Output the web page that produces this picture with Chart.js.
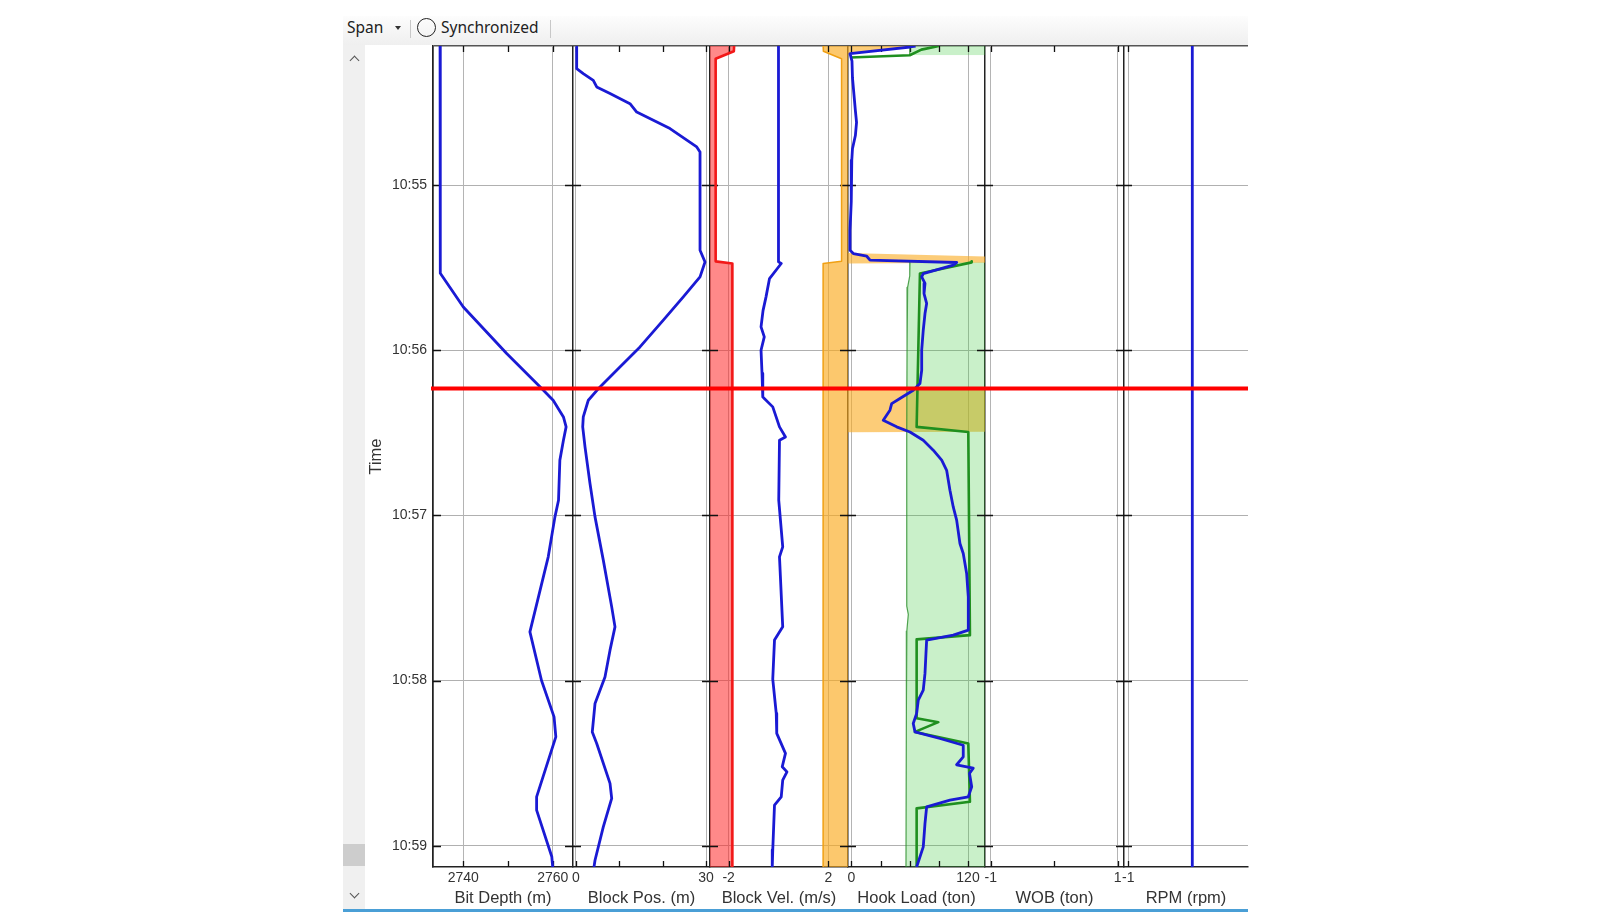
<!DOCTYPE html>
<html>
<head>
<meta charset="utf-8">
<title>Drilling log</title>
<script src="https://cdn.jsdelivr.net/npm/chart.js@4.4.1/dist/chart.umd.min.js"></script>
<style>
  html, body { margin: 0; padding: 0; background: #fff; }
  body { width: 1600px; height: 917px; position: relative; overflow: hidden; font-family: "Noto Sans", "Open Sans", sans-serif; }
  .toolbar { position: absolute; left: 343px; top: 16px; width: 905px; height: 29px; background: linear-gradient(#fdfdfd, #efefef); }
  .tb-text { position: absolute; top: 1px; font-size: 15.5px; line-height: 20px; color: #222; }
  .caret { position: absolute; left: 52px; top: 10px; width: 0; height: 0; border-left: 3.5px solid transparent; border-right: 3.5px solid transparent; border-top: 4px solid #333; }
  .sep { position: absolute; top: 4px; width: 1px; height: 18px; background: #c8c8c8; }
  .radio { position: absolute; left: 74px; top: 2px; width: 17px; height: 17px; border: 1.5px solid #222; border-radius: 50%; }
  .scroll { position: absolute; left: 343px; top: 45px; width: 22px; height: 864px; background: #f0f0f0; }
  .thumb { position: absolute; left: 0; top: 799px; width: 22px; height: 22px; background: #cdcdcd; }
  .chev { position: absolute; left: 8px; width: 6px; height: 6px; border-left: 1.6px solid #555; border-top: 1.6px solid #555; }
  .up { top: 12px; transform: rotate(45deg); }
  .down { top: 845px; transform: rotate(225deg); }
  .bottom-line { position: absolute; left: 343px; top: 909px; width: 905px; height: 3px; background: #4a9fd6; }
  #wrap { position: absolute; left: 367px; top: 44px; width: 893px; height: 873px; }
</style>
</head>
<body>
<div class="toolbar">
  <div class="tb-text" style="left:4px">Span</div>
  <div class="caret"></div>
  <div class="sep" style="left:67px"></div>
  <div class="radio"></div>
  <div class="tb-text" style="left:98px">Synchronized</div>
  <div class="sep" style="left:207px"></div>
</div>
<div class="scroll">
  <div class="chev up"></div>
  <div class="thumb"></div>
  <div class="chev down"></div>
</div>
<div class="bottom-line"></div>
<div id="wrap"><canvas id="logChart"></canvas></div>

<script>
// time is in minutes after 10:00
const timeMin = 54.158;
const timeMax = 59.129;
const timeTicks = [55, 56, 57, 58, 59];
const cursorTime = 56.232;

// tracks, left to right
const trackIds = ['depth', 'pos', 'vel', 'hook', 'wob', 'rpm'];
const trackTitles = ['Bit Depth (m)', 'Block Pos. (m)', 'Block Vel. (m/s)', 'Hook Load (ton)', 'WOB (ton)', 'RPM (rpm)'];
const trackMin = [2733.22, -0.69, -2.747, -3.6, -1.09, -1.067];
const trackMax = [2764.54, 30.92, 2.788, 137.5, 1.10, 0.87];
const trackWidth = [140, 137, 138, 137, 139, 124];
const trackLabels = [[2740, 2760], [0, 30], [-2, 2], [0, 120], [-1, 1], [-1]];
const trackMinor = [[2750], [10, 20], [], [30, 60, 90], [0], []];

// series: [time, value]
const bitDepth = [
  [54.158, 2734.8], [55.516, 2734.8], [55.534, 2734.9], [55.738, 2740.0], [56.020, 2749.7],
  [56.222, 2757.2], [56.303, 2760.1], [56.404, 2762.4], [56.464, 2763.0], [56.545, 2762.4],
  [56.666, 2761.6], [56.908, 2761.3], [57.009, 2760.5], [57.251, 2759.0], [57.705, 2754.9],
  [58.000, 2757.5], [58.220, 2760.3], [58.341, 2760.7], [58.704, 2756.4], [58.785, 2756.4],
  [59.067, 2759.8], [59.129, 2760.0]
];
const blockPos = [
  [54.164, 0.16], [54.295, 0.16], [54.325, 1.68], [54.366, 3.99], [54.406, 4.78],
  [54.446, 7.85], [54.507, 12.46], [54.558, 14.01], [54.658, 21.69], [54.769, 27.86],
  [54.800, 28.62], [55.395, 28.62], [55.466, 29.77], [55.556, 28.62], [55.677, 24.76],
  [55.818, 20.15], [55.980, 14.77], [56.121, 9.39], [56.222, 5.54], [56.303, 2.84],
  [56.404, 1.68], [56.464, 1.55], [56.585, 2.08], [56.807, 3.23], [57.009, 4.39],
  [57.271, 6.30], [57.554, 8.24], [57.675, 9.00], [57.816, 7.85], [57.978, 6.69],
  [58.139, 4.39], [58.311, 3.76], [58.381, 4.78], [58.623, 7.85], [58.714, 8.24],
  [58.886, 6.30], [59.088, 4.39], [59.129, 4.15]
];
const blockVel = [
  [54.158, 0.00], [55.465, 0.00], [55.475, 0.11], [55.566, -0.36], [55.677, -0.50],
  [55.760, -0.62], [55.859, -0.70], [55.919, -0.57], [56.000, -0.70], [56.141, -0.66],
  [56.283, -0.63], [56.343, -0.23], [56.464, 0.04], [56.525, 0.28], [56.545, 0.04],
  [56.908, 0.01], [57.191, 0.17], [57.251, 0.04], [57.675, 0.17], [57.755, -0.16],
  [57.992, -0.23], [58.199, -0.09], [58.320, -0.07], [58.441, 0.28], [58.522, 0.15],
  [58.553, 0.34], [58.603, 0.17], [58.704, 0.11], [58.754, -0.16], [59.026, -0.23],
  [59.129, -0.25]
];
const velLow = [[54.158, -1.78], [54.190, -1.79], [54.235, -2.52], [55.462, -2.52], [55.475, -1.85], [59.129, -1.85]];
const velHigh = [[54.158, 1.79], [54.190, 1.80], [54.235, 2.53], [55.462, 2.53], [55.475, 1.79], [59.129, 1.79]];
const hookLoad = [
  [54.158, 66], [54.164, 60.2], [54.204, -1.5], [54.25, 0.5], [54.35, 1.0], [54.45, 2.5],
  [54.55, 4.0], [54.62, 5.2], [54.70, 4.0], [54.78, 1.0], [54.85, 0.3], [55.00, -0.5],
  [55.10, 0.0], [55.274, -1.5], [55.395, -1.5], [55.415, 1.9], [55.431, 15.7], [55.455, 19.1],
  [55.469, 108.3], [55.485, 104.8], [55.536, 73.9], [55.556, 72.3], [55.596, 75.7], [55.657, 74.7],
  [55.717, 77.4], [55.778, 75.7], [55.879, 73.9], [56.000, 72.3], [56.121, 72.3], [56.202, 70.5],
  [56.242, 63.6], [56.292, 49.9], [56.323, 41.4], [56.363, 39.6], [56.424, 32.7], [56.464, 46.5],
  [56.495, 60.2], [56.545, 73.9], [56.605, 84.2], [56.666, 92.9], [56.727, 98.0], [56.787, 99.7],
  [56.848, 101.4], [56.949, 104.8], [57.029, 108.3], [57.170, 111.7], [57.231, 115.1], [57.352, 118.6],
  [57.493, 120.3], [57.695, 120.3], [57.725, 104.8], [57.755, 77.4], [57.836, 76.7], [57.957, 75.7],
  [58.058, 73.9], [58.119, 68.8], [58.199, 67.1], [58.260, 63.6], [58.311, 65.4], [58.351, 91.1],
  [58.392, 115.1], [58.462, 115.1], [58.510, 108.3], [58.530, 125.4], [58.562, 121.5], [58.643, 123.8],
  [58.704, 120.3], [58.724, 101.4], [58.765, 77.4], [58.865, 75.7], [59.007, 73.9], [59.129, 67.1]
];
const hookModelTop = [[54.158, 90], [54.180, 72], [54.214, 60], [54.228, -1.5]];
const hookModel = [
  [55.462, 123.8], [55.468, 123.8], [55.536, 70.5], [56.464, 67.1], [56.495, 120.3],
  [57.725, 122.0], [57.751, 67.1], [58.228, 67.1], [58.252, 89.4], [58.311, 65.4],
  [58.381, 120.3], [58.734, 122.0], [58.774, 67.1], [59.129, 67.1]
];
const hookBandTop = [[54.158, 60], [54.214, 60]];
const hookBand = [
  [55.468, 60.2], [55.550, 60.0], [55.620, 57.8], [56.000, 57.2], [56.500, 56.9],
  [57.000, 57.0], [57.550, 56.8], [57.600, 58.5], [57.700, 57.0], [58.200, 56.5], [59.129, 56.1]
];
const hookAlarm = [
  [54.158, 62], [54.166, 62], [54.205, -3.6], [55.412, -3.6], [55.432, 137.5], [55.470, 137.5],
  [55.475, -3.6], [56.236, -3.6], [56.240, 137.5], [56.493, 137.5], [56.497, -3.6], [59.129, -3.6]
];
const rpm = [[54.158, 0], [59.129, 0]];

const BLUE = '#1a1ad4';

function pts(arr) {
  return arr.map(p => ({ x: p[1], y: p[0] }));
}

function line(data, axis, color, width, extra) {
  return Object.assign({
    data: pts(data),
    xAxisID: axis,
    yAxisID: 'y',
    borderColor: color,
    borderWidth: width,
    pointRadius: 0,
    tension: 0,
    fill: false,
    borderJoinStyle: 'round'
  }, extra || {});
}

function trackAxis(i) {
  const min = trackMin[i];
  const max = trackMax[i];
  return {
    type: 'linear',
    axis: 'x',
    position: 'bottom',
    stack: 'tracks',
    stackWeight: trackWidth[i],
    min: min,
    max: max,
    afterBuildTicks: s => { s.ticks = [min].concat(trackLabels[i]).map(v => ({ value: v })); },
    afterFit: s => { s.height = 50; },
    ticks: {
      autoSkip: false,
      maxRotation: 0,
      padding: 3,
      color: '#333',
      font: { size: 14 },
      callback: (v, idx) => idx === 0 ? '' : String(v)
    },
    grid: {
      drawTicks: false,
      color: c => c.index === 0 ? '#222' : '#b4b4b4',
      lineWidth: c => c.index === 0 ? 1.5 : 1
    },
    border: { display: true, color: '#222', width: 1.5 },
    title: {
      display: true,
      text: trackTitles[i],
      color: '#333',
      font: { size: 16.5 },
      padding: { top: 0, bottom: 9 }
    }
  };
}

const trackMarks = {
  id: 'trackMarks',
  beforeDatasetsDraw(chart) {
    const { ctx, chartArea: a, scales } = chart;
    const yScale = scales.y;
    ctx.save();
    ctx.strokeStyle = '#111';
    ctx.lineWidth = 1.3;
    ctx.beginPath();
    trackIds.forEach((id, i) => {
      const s = scales[id];
      trackLabels[i].concat(trackMinor[i]).forEach(v => {
        const x = Math.round(s.getPixelForValue(v)) + 0.5;
        ctx.moveTo(x, a.bottom);
        ctx.lineTo(x, a.bottom - 6);
        ctx.moveTo(x, a.top);
        ctx.lineTo(x, a.top + 6);
      });
      timeTicks.forEach(t => {
        const y = Math.round(yScale.getPixelForValue(t)) + 0.5;
        ctx.moveTo(i === 0 ? s.left : s.left - 8, y);
        ctx.lineTo(s.left + 8, y);
      });
    });
    ctx.stroke();
    ctx.restore();
  },
  afterDatasetsDraw(chart) {
    const { ctx, chartArea: a, scales } = chart;
    const y = scales.y.getPixelForValue(cursorTime);
    ctx.save();
    ctx.strokeStyle = '#ff0000';
    ctx.lineWidth = 4;
    ctx.beginPath();
    ctx.moveTo(a.left - 2, y);
    ctx.lineTo(a.right, y);
    ctx.stroke();
    ctx.restore();
  }
};

Chart.defaults.font.family = '"Liberation Sans", Arial, sans-serif';
Chart.defaults.color = '#333';

const scales = {
  y: {
    type: 'linear',
    position: 'left',
    reverse: true,
    min: timeMin,
    max: timeMax,
    afterBuildTicks: s => { s.ticks = [timeMin].concat(timeTicks).map(v => ({ value: v })); },
    afterFit: s => { s.width = 66; s.paddingTop = 0; s.paddingBottom = 0; },
    ticks: {
      autoSkip: false,
      padding: 6,
      color: '#333',
      font: { size: 14 },
      callback: (v, idx) => idx === 0 ? '' : '10:' + v
    },
    grid: {
      drawTicks: false,
      color: c => c.index === 0 ? '#555' : '#b0b0b0',
      lineWidth: c => c.index === 0 ? 1.5 : 1
    },
    border: { display: true, color: '#222', width: 1.5 },
    title: { display: true, text: 'Time', color: '#333', font: { size: 16.5 }, padding: 0 }
  }
};
trackIds.forEach((id, i) => { scales[id] = trackAxis(i); });

const datasets = [
  line(hookLoad, 'hook', BLUE, 2.8),
  line(hookModelTop, 'hook', '#1f8f1f', 2.6),
  line(hookModel, 'hook', '#1f8f1f', 2.6),
  line(bitDepth, 'depth', BLUE, 2.8),
  line(blockPos, 'pos', BLUE, 2.8),
  line(blockVel, 'vel', BLUE, 2.8),
  line(rpm, 'rpm', BLUE, 2.8),
  line(velLow, 'vel', '#f21818', 2.6, { fill: { value: trackMin[2] }, backgroundColor: 'rgba(255,40,40,0.55)' }),
  line(velHigh, 'vel', 'rgb(240,160,20)', 1.5, { fill: { value: trackMax[2] }, backgroundColor: 'rgba(250,170,30,0.65)' }),
  line(hookBandTop, 'hook', 'rgba(40,140,40,0.8)', 1.2, { fill: { value: trackMax[3] }, backgroundColor: 'rgba(60,200,60,0.28)' }),
  line(hookBand, 'hook', 'rgba(40,140,40,0.8)', 1.2, { fill: { value: trackMax[3] }, backgroundColor: 'rgba(60,200,60,0.28)' }),
  line(hookAlarm, 'hook', 'rgba(0,0,0,0)', 0, { fill: { value: trackMin[3] }, backgroundColor: 'rgba(250,170,30,0.6)' })
];

new Chart(document.getElementById('logChart').getContext('2d'), {
  type: 'line',
  data: { datasets: datasets },
  options: {
    indexAxis: 'y',
    responsive: true,
    maintainAspectRatio: false,
    animation: false,
    events: [],
    layout: { padding: { left: 0, right: 12, top: 2, bottom: 0 } },
    scales: scales,
    plugins: {
      legend: { display: false },
      tooltip: { enabled: false },
      filler: { drawTime: 'beforeDatasetsDraw' }
    }
  },
  plugins: [trackMarks]
});
</script>
</body>
</html>
